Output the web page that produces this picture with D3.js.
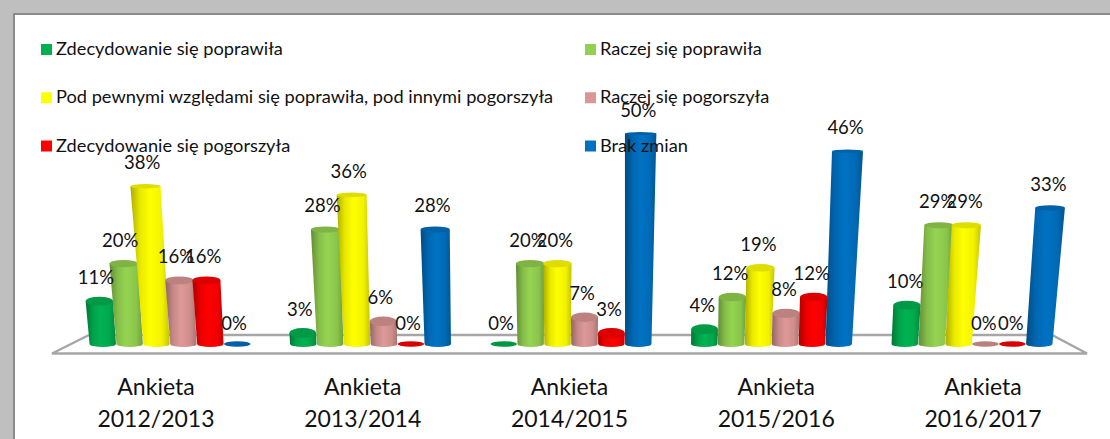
<!DOCTYPE html>
<html><head><meta charset="utf-8">
<style>html,body{margin:0;padding:0;background:#bfbfbf;overflow:hidden}svg{display:block}text{font-family:Lato,sans-serif;fill:#111}</style>
<script src="https://cdn.jsdelivr.net/npm/d3@7"></script></head><body>
<svg id="c" width="1110" height="439"></svg>
<script>
const categories = ["2012/2013","2013/2014","2014/2015","2015/2016","2016/2017"];
const seriesNames = ["Zdecydowanie się poprawiła","Raczej się poprawiła","Pod pewnymi względami się poprawiła, pod innymi pogorszyła","Raczej się pogorszyła","Zdecydowanie się pogorszyła","Brak zmian"];
const colors = ["#00b050","#92d050","#ffff00","#d99694","#ff0000","#0070c0"];
const zdecydowaniePoprawila = [11,3,0,4,10];
const raczejPoprawila = [20,28,20,12,29];
const mieszane = [38,36,20,19,29];
const raczejPogorszyla = [16,6,7,8,0];
const zdecydowaniePogorszyla = [16,0,3,12,0];
const brakZmian = [0,28,50,46,33];
const seriesValues = [zdecydowaniePoprawila,raczejPoprawila,mieszane,raczejPogorszyla,zdecydowaniePogorszyla,brakZmian];

const svg = d3.select("#c");
svg.append("rect").attr("x",14).attr("y",14).attr("width",1110).attr("height",440).attr("fill","#fff").attr("stroke","#8c8c8c").attr("stroke-width",2);

const xG = d3.scaleBand().domain(categories).range([69.75,1072.25]);
const groupInner = 161.4;
const xS = d3.scaleBand().domain(d3.range(6)).range([0,groupInner]);
const y = d3.scalePow().exponent(1.05).domain([0,50]).range([344,133.5]);
const xLabel = d3.scalePoint().domain(categories).range([156,983]);
const cx = 571, H = 5900;

const defs = svg.append("defs");
colors.forEach((c,i)=>{
  const g = defs.append("linearGradient").attr("id","g"+i);
  const base = d3.color(c);
  [[0,base.darker(1.1)],[.25,base.darker(.25)],[.5,base.brighter(.05)],[.8,base.darker(.15)],[1,base.darker(.75)]].forEach(([o,col])=>g.append("stop").attr("offset",o).attr("stop-color",col));
});

// floor
svg.append("path").attr("d",d3.line()([[89,335],[52,353.5],[1087,353.5],[1052,335],[89,335]]))
  .attr("fill","#fff").attr("stroke","#a6a6a6").attr("stroke-width",2.4);

const bars = [];
categories.forEach((cat,ci)=>seriesNames.forEach((s,si)=>{
  const v = seriesValues[si][ci];
  const x0 = xG(cat)+(xG.bandwidth()-groupInner)/2+xS(si)+xS.bandwidth()/2;
  const top = y(v), h = y(0)-top;
  bars.push({v,si,x0,top,h,xt:x0+(x0-cx)*h/H});
}));
const rw = 13.2, ryB = 3;
const gb = svg.append("g");
bars.forEach(b=>{
  const col = d3.color(colors[b.si]);
  if(b.v===0){
    gb.append("ellipse").attr("cx",b.x0).attr("cy",y(0)).attr("rx",rw).attr("ry",2.8).attr("fill",col.darker(.45));
    return;
  }
  const rt = rw+b.h*0.012, ryT = Math.max(1.5,5.2-b.h*0.019);
  gb.append("path").attr("fill",`url(#g${b.si})`)
    .attr("d",`M${b.xt-rt},${b.top}L${b.x0-rw},${y(0)}A${rw},${ryB} 0 0 0 ${b.x0+rw},${y(0)}L${b.xt+rt},${b.top}Z`);
  gb.append("ellipse").attr("cx",b.xt).attr("cy",b.top).attr("rx",rt).attr("ry",ryT).attr("fill",col.darker(.4));
});
svg.append("g").selectAll("text").data(bars).join("text")
  .attr("x",d=>d.xt-2.5+(d.x0-cx)*0.002)
  .attr("y",d=>d.v===0?y(0)-14:d.top-17)
  .attr("text-anchor","middle").attr("font-size",18.5).text(d=>d.v+"%");

// category labels
const al = svg.append("g").attr("text-anchor","middle").attr("font-size",23);
categories.forEach(c=>{
  al.append("text").attr("x",xLabel(c)).attr("y",395).text("Ankieta");
  al.append("text").attr("x",xLabel(c)).attr("y",427).text(c);
});

// legend
const legX = d3.scalePoint().domain([0,1]).range([41,585]);
const legY = d3.scalePoint().domain([0,1,2]).range([49.5,146]);
const leg = svg.append("g");
seriesNames.forEach((s,i)=>{
  const col = i%2, row = Math.floor(i/2);
  leg.append("rect").attr("x",legX(col)).attr("y",legY(row)-5.5).attr("width",11).attr("height",11).attr("fill",colors[i]);
  leg.append("text").attr("transform",`translate(${legX(col)+15},${legY(row)+5.5}) scale(1.105,1)`).attr("font-size",16.5).text(s);
});
</script></body></html>
